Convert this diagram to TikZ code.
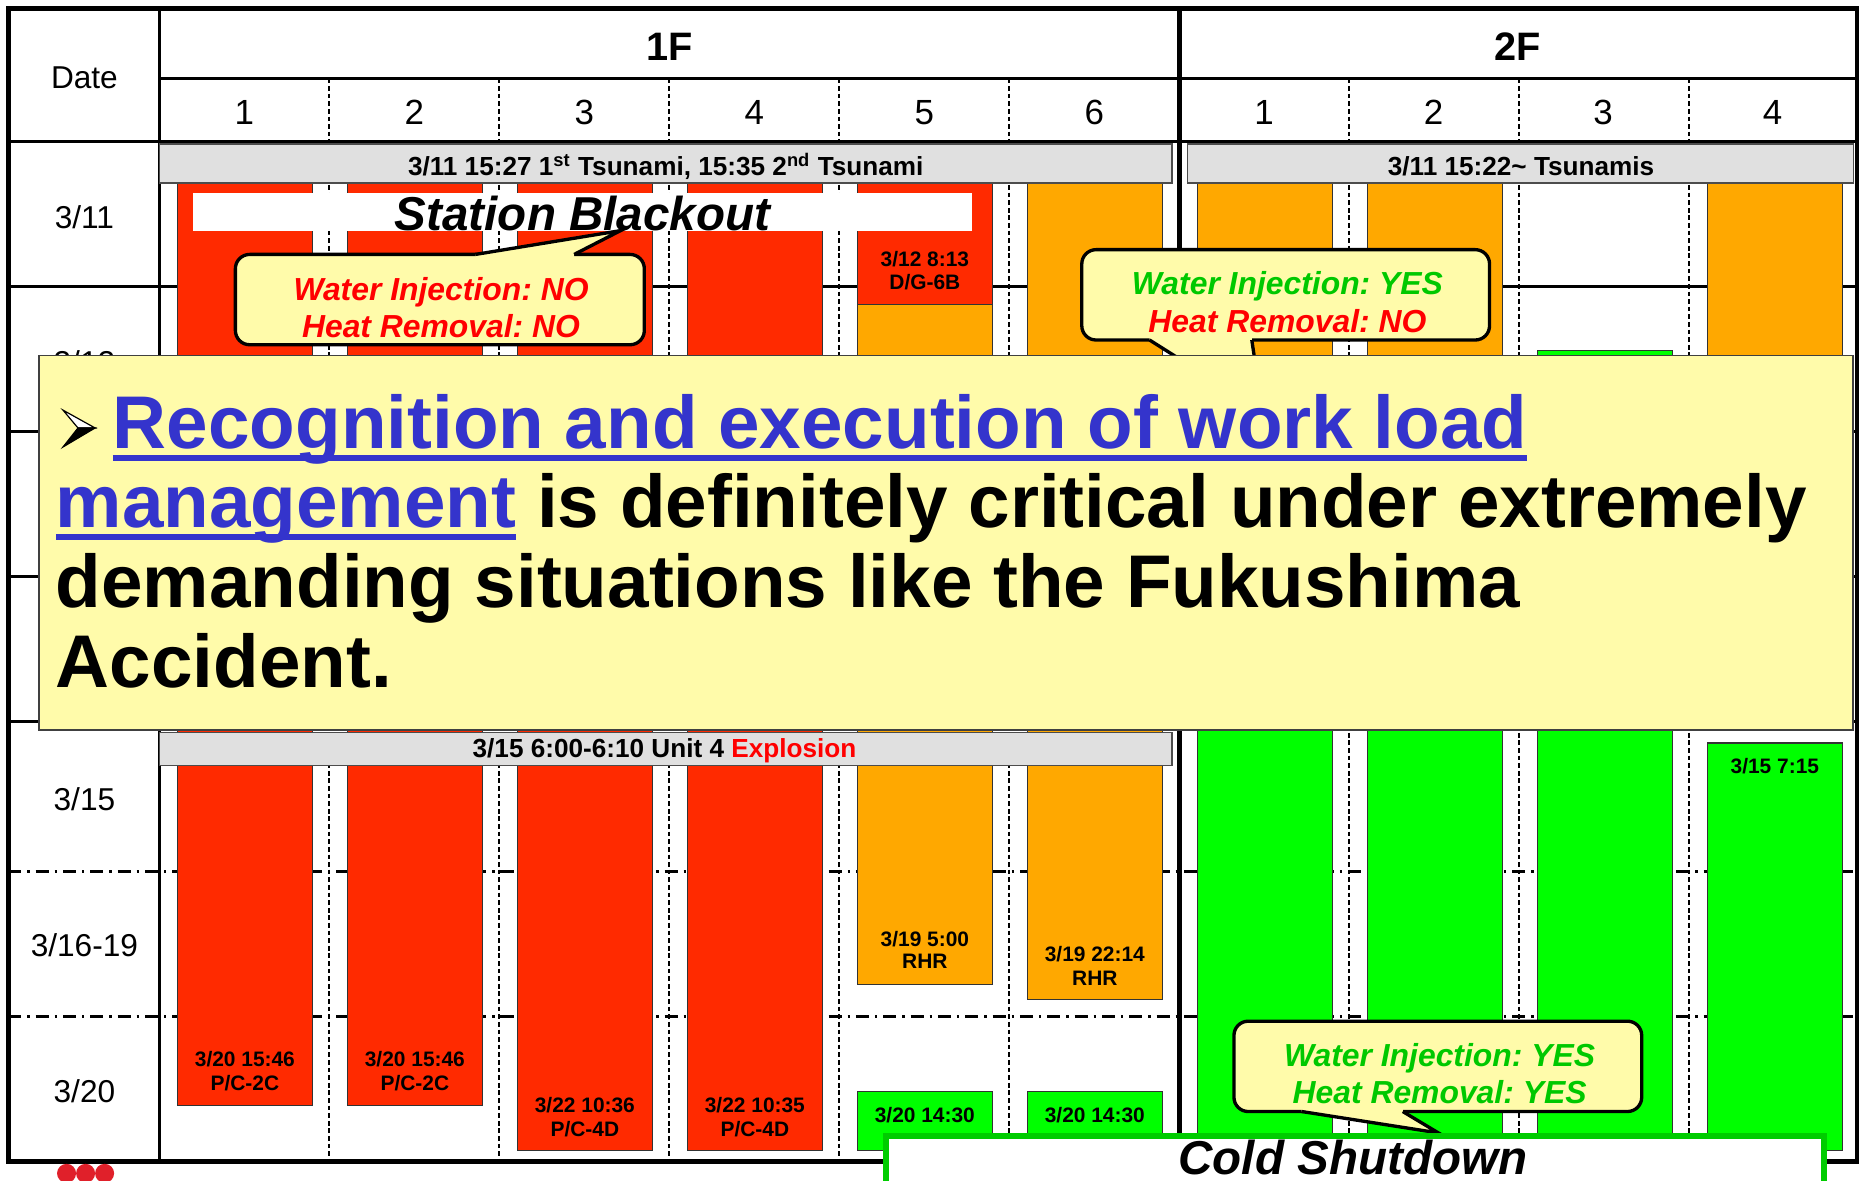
\documentclass[tikz,border=0pt]{standalone}
\usepackage{fontspec}
\setmainfont{Liberation Sans}
\frenchspacing
\definecolor{barred}{HTML}{FF2A00}
\definecolor{barorange}{HTML}{FFA800}
\definecolor{bargreen}{HTML}{00FF00}
\definecolor{txtgreen}{HTML}{00C800}
\definecolor{txtred}{HTML}{FF0000}
\definecolor{cyellow}{HTML}{FFFBAA}
\definecolor{bannergray}{HTML}{E0E0E0}
\definecolor{txtblue}{HTML}{3434CC}
\definecolor{csgreen}{HTML}{00CC00}
\definecolor{dotred}{HTML}{E0202A}
\newcommand\xcofont{\bfseries\itshape\fontsize{13.4}{15}\selectfont}
\newcommand\xlblfont{\bfseries\fontsize{8.8}{9.9}\selectfont}
\newcommand\xdatefont{\fontsize{13.3}{15}\selectfont}
\newcommand\xunitfont{\fontsize{14.7}{16}\selectfont}
\newcommand\xbigfont{\bfseries\fontsize{31.4}{33.5}\selectfont}
\newcommand\xbannerfont{\bfseries\fontsize{11}{12}\selectfont}
\newcommand\xtitlefont{\bfseries\itshape\fontsize{20}{22}\selectfont}
\newcommand\xheadfont{\bfseries\fontsize{16.7}{18}\selectfont}
\newcommand\drawbar[5]{\draw[barbox, fill=#5] (#1,#3) rectangle (#2,#4);}
\newcommand\xlbl[4]{\node[anchor=base, font=\xlblfont] (#1) at (#2,#3) {#4};}
\tikzset{
  gridline/.style={line width=1.2pt, draw=black},
  dashdotline/.style={line width=1pt, draw=black, dash pattern=on 5.5pt off 2.5pt on 1pt off 2.5pt},
  vdash/.style={line width=0.8pt, draw=black, dash pattern=on 2pt off 1.2pt},
  barbox/.style={draw=black!80, line width=0.5pt},
  banner/.style={fill=bannergray, draw=black!70, line width=0.6pt},
  callout/.style={fill=cyellow, draw=black, line width=1.4pt, rounded corners=6pt},
  pointer/.style={draw=black, line width=1.4pt, line join=miter},
  frameline/.style={line width=2pt, draw=black},
}
\begin{document}
\begin{tikzpicture}[x=0.5pt,y=-0.5pt, every node/.style={inner sep=0pt, outer sep=0pt}]
\useasboundingbox (0,0) rectangle (1568,993);
\clip (0,0) rectangle (1568,993);
\fill[white] (0,0) rectangle (1568,993);

% grid lines under the bars
\foreach \y in {241,363,485,607} \draw[gridline] (7,\y) -- (1562,\y);
\foreach \y in {733,855} \draw[dashdotline] (7,\y) -- (1562,\y);
\foreach \x in {277,420,563,706,849,1135,1278,1420.5} \draw[vdash] (\x,66) -- (\x,977);

% bars 1F
\drawbar{149}{263}{154}{930}{barred}
\drawbar{292}{406}{154}{930}{barred}
\drawbar{435}{549}{154}{968}{barred}
\drawbar{578}{692}{154}{968}{barred}
\drawbar{721}{835}{154}{256}{barred}
\drawbar{721}{835}{256}{828}{barorange}
\drawbar{721}{835}{918}{968}{bargreen}
\drawbar{864}{978}{154}{841}{barorange}
\drawbar{864}{978}{918}{968}{bargreen}
% bars 2F
\drawbar{1007}{1121}{154}{450}{barorange}
\drawbar{1007}{1121}{450}{968}{bargreen}
\drawbar{1150}{1264}{154}{450}{barorange}
\drawbar{1150}{1264}{450}{968}{bargreen}
\drawbar{1293}{1407}{295}{968}{bargreen}
\drawbar{1436}{1550}{154}{580}{barorange}
\drawbar{1436}{1550}{625}{968}{bargreen}

% bar labels
\xlbl{a1}{206}{897}{3/20 15:46}
\xlbl{a2}{206}{917}{P/C-2C}
\xlbl{b1}{349}{897}{3/20 15:46}
\xlbl{b2}{349}{917}{P/C-2C}
\xlbl{c1}{492}{936}{3/22 10:36}
\xlbl{c2}{492}{955.6}{P/C-4D}
\xlbl{d1}{635}{936}{3/22 10:35}
\xlbl{d2}{635}{955.6}{P/C-4D}
\xlbl{e1}{778}{224}{3/12 8:13}
\xlbl{e2}{778}{243.5}{D/G-6B}
\xlbl{e3}{778}{796}{3/19 5:00}
\xlbl{e4}{778}{815}{RHR}
\xlbl{e5}{778}{944.5}{3/20 14:30}
\xlbl{f1}{921}{808.5}{3/19 22:14}
\xlbl{f2}{921}{828.6}{RHR}
\xlbl{f3}{921}{944.5}{3/20 14:30}
\xlbl{g1}{1493}{651}{3/15 7:15}

% header and frame lines
\draw[gridline] (134,66) -- (1562,66);
\draw[gridline] (7,119) -- (1562,119);
\draw[gridline] (134,7) -- (134,977);
\draw[frameline] (992,7) -- (992,977);
\draw[frameline] (7,7) rectangle (1562,977);

% banners
\draw[banner] (134,121) rectangle (986,154);
\node[anchor=base, font=\xbannerfont] (ban1) at (560,148) {3/11 15:27 1\textsuperscript{st} Tsunami, 15:35 2\textsuperscript{nd} Tsunami};
\draw[banner] (999,121) rectangle (1559,154);
\node[anchor=base, font=\xbannerfont] (ban2) at (1279.5,148) {3/11 15:22\char"007E{} Tsunamis};
\draw[banner] (134,616) rectangle (986,644);
\node[anchor=base, font=\xbannerfont] (ban3) at (559,637) {3/15 6:00-6:10 Unit 4 \textcolor{txtred}{Explosion}};

% Station Blackout
\fill[white] (162,162) rectangle (818,194);
\node[anchor=base, font=\xtitlefont] (sbo) at (490,193.5) {Station Blackout};

% callout 1
\draw[callout] (198,214) rectangle (542,290);
\fill[cyellow] (400,214) -- (522,194) -- (483,214) -- (483,217) -- (400,217) -- cycle;
\draw[pointer] (400,214) -- (522,194) -- (483,214);
\node[anchor=base, font=\xcofont, text=txtred] (co1a) at (371,252.6) {Water Injection: NO};
\node[anchor=base, font=\xcofont, text=txtred] (co1b) at (371,284) {Heat Removal: NO};

% callout 2
\draw[callout] (910,210) rectangle (1253,286);
\fill[cyellow] (967,286) -- (1062,346) -- (1053,286) -- (1053,283) -- (967,283) -- cycle;
\draw[pointer] (967,286) -- (1062,346) -- (1053,286);
\node[anchor=base, font=\xcofont, text=txtgreen] (co2a) at (1083,248) {Water Injection: YES};
\node[anchor=base, font=\xcofont, text=txtred] (co2b) at (1083,280) {Heat Removal: NO};

% header texts
\node[anchor=base, font=\xheadfont] (h1F) at (563,50.5) {1F};
\node[anchor=base, font=\xheadfont] (h2F) at (1277,50.5) {2F};
\foreach \x [count=\i] in {205.5,348.5,491.5,634.5,777.5,920.5}
  \node[anchor=base, font=\xunitfont] (ua\i) at (\x,104.3) {\i};
\foreach \x [count=\i] in {1063.25,1206,1348.5,1491}
  \node[anchor=base, font=\xunitfont] (ub\i) at (\x,104.3) {\i};

% date column
\node[anchor=base, font=\xdatefont] (date) at (71,74.5) {Date};
\node[anchor=base, font=\xdatefont] (d311) at (71,192) {3/11};
\node[anchor=base, font=\xdatefont] (d312) at (71,314) {3/12};
\node[anchor=base, font=\xdatefont] (d315) at (71,681.5) {3/15};
\node[anchor=base, font=\xdatefont] (d316) at (71,805) {3/16-19};
\node[anchor=base, font=\xdatefont] (d320) at (71,927) {3/20};

% main message box
\draw[fill=cyellow, draw=black!75, line width=0.8pt] (33,299) rectangle (1559,614);
\draw[fill=white, draw=black, line width=0.5pt, line join=miter] (53,345) -- (80,360) -- (65.6,360) -- cycle;
\draw[fill=black, draw=black, line width=0.5pt, line join=miter] (65.6,360) -- (80,360) -- (53,376) -- cycle;
\node[anchor=base west, font=\xbigfont, text=txtblue] (l1) at (95,377) {Recognition and execution of work load};
\draw[txtblue, line width=2.4pt] ([yshift=-4pt]l1.base west) -- ([yshift=-4pt]l1.base east);
\node[anchor=base west, font=\xbigfont, text=txtblue] (l2a) at (47,444) {management};
\draw[txtblue, line width=2.4pt] ([yshift=-4pt]l2a.base west) -- ([yshift=-4pt]l2a.base east);
\node[anchor=base west, font=\xbigfont] (l2b) at (l2a.base east) {\ is definitely critical under extremely};
\node[anchor=base west, font=\xbigfont] (l3) at (47,511) {demanding situations like the Fukushima};
\node[anchor=base west, font=\xbigfont] (l4) at (47,578) {Accident.};

% callout 3
\draw[callout] (1038,859) rectangle (1381,935);
\fill[cyellow] (1095,935) -- (1210,953) -- (1180,935) -- (1180,932) -- (1095,932) -- cycle;
\draw[pointer] (1095,935) -- (1210,953) -- (1180,935);
\node[anchor=base, font=\xcofont, text=txtgreen] (co3a) at (1211,897) {Water Injection: YES};
\node[anchor=base, font=\xcofont, text=txtgreen] (co3b) at (1211,928) {Heat Removal: YES};

% Cold Shutdown
\draw[fill=white, draw=csgreen, line width=2.5pt] (745.5,955.5) rectangle (1534,998);
\node[anchor=base, font=\xtitlefont] (cs) at (1138,988) {Cold Shutdown};

% red dots
\fill[dotred] (56,987) circle (8);
\fill[dotred] (72,987) circle (8);
\fill[dotred] (88,987) circle (8);
\end{tikzpicture}
\end{document}
